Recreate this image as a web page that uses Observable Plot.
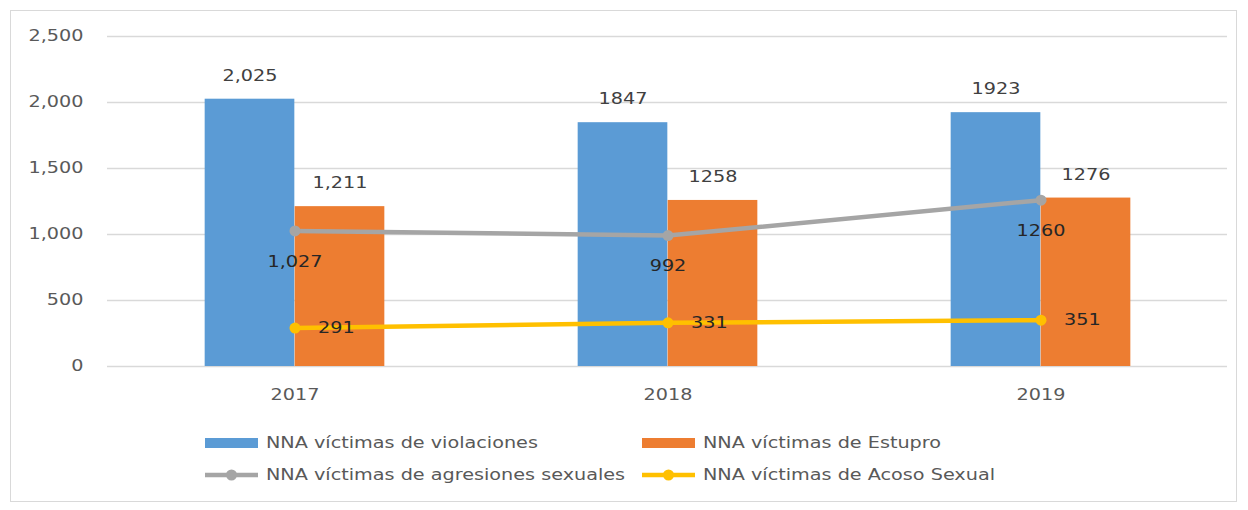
<!DOCTYPE html>
<html>
<head>
<meta charset="utf-8">
<script src="https://cdn.jsdelivr.net/npm/d3@7"></script>
<script src="https://cdn.jsdelivr.net/npm/@observablehq/plot@0.6"></script>
<style>
  body { margin: 0; background: #ffffff; font-family: "DejaVu Sans", sans-serif; }
  #wrap { position: relative; width: 1248px; height: 510px; overflow: hidden; background: #fff; }
  #frame { position: absolute; left: 10px; top: 10px; width: 1227px; height: 492px; border: 1.5px solid #d9d9d9; box-sizing: border-box; }
  #chart { position: absolute; left: 0; top: 0; }
  .item { position: absolute; display: flex; align-items: center; height: 20px; }
  .item svg { display: block; }
  .lab { display: inline-block; margin-left: 8px; transform: scaleX(1.28); transform-origin: 0 50%; font-size: 15px; color: #595959; white-space: nowrap; font-family: "DejaVu Sans", sans-serif; }
</style>
</head>
<body>
<div id="wrap">
  <div id="frame"></div>
  <div id="chart"></div>
  <div id="legend"></div>
</div>
<script>
// ---- data ----
const years = ["2017", "2018", "2019"];
const violaciones = [2025, 1847, 1923];
const estupro = [1211, 1258, 1276];
const agresiones = [1027, 992, 1260];
const acoso = [291, 331, 351];
const violacionesLabels = ["2,025", "1847", "1923"];
const estuproLabels = ["1,211", "1258", "1276"];
const agresionesLabels = ["1,027", "992", "1260"];
const acosoLabels = ["291", "331", "351"];
const yTicks = [0, 500, 1000, 1500, 2000, 2500];
const seriesNames = [
  "NNA víctimas de violaciones",
  "NNA víctimas de Estupro",
  "NNA víctimas de agresiones sexuales",
  "NNA víctimas de Acoso Sexual"
];
const seriesColors = ["#5b9bd5", "#ed7d31", "#a5a5a5", "#ffc000"];

// ---- tables built from the arrays ----
const mk = (vals, labs) => years.map((y, i) => ({year: y, value: vals[i], label: labs[i]}));
const dViol = mk(violaciones, violacionesLabels);
const dEst = mk(estupro, estuproLabels);
const dAgr = mk(agresiones, agresionesLabels);
const dAco = mk(acoso, acosoLabels);

// ---- layout ----
const W = 1248, H = 420, mL = 107, mR = 21, mT = 36, mB = 54;
const bw = (W - mL - mR) / years.length;
const barW = 90;
const FONT = "DejaVu Sans, sans-serif";
const STRETCH = 1.28;

const chart = Plot.plot({
  width: W,
  height: H,
  marginLeft: mL,
  marginRight: mR,
  marginTop: mT,
  marginBottom: mB,
  style: {fontFamily: FONT, fontSize: "15px", color: "#595959", background: "transparent"},
  x: {domain: years, type: "band", paddingInner: 0, paddingOuter: 0, label: null, tickSize: 0, tickPadding: 23},
  y: {domain: [0, 2500], ticks: yTicks, tickFormat: d3.format(","), label: null, tickSize: 0, tickPadding: 24},
  marks: [
    Plot.ruleY(yTicks, {stroke: "#d9d9d9", strokeWidth: 1.3}),
    Plot.barY(dViol, {x: "year", y: "value", fill: seriesColors[0], insetLeft: bw / 2 - barW, insetRight: bw / 2}),
    Plot.barY(dEst, {x: "year", y: "value", fill: seriesColors[1], insetLeft: bw / 2, insetRight: bw / 2 - barW}),
    Plot.line(dAgr, {x: "year", y: "value", stroke: seriesColors[2], strokeWidth: 4.5}),
    Plot.dot(dAgr, {x: "year", y: "value", r: 5.5, fill: seriesColors[2], stroke: "none"}),
    Plot.line(dAco, {x: "year", y: "value", stroke: seriesColors[3], strokeWidth: 4.5}),
    Plot.dot(dAco, {x: "year", y: "value", r: 5.5, fill: seriesColors[3], stroke: "none"}),
    Plot.text(dViol, {x: "year", y: "value", text: "label", dx: -barW / 2, dy: -23, fill: "#404040", fontSize: 15}),
    Plot.text(dEst, {x: "year", y: "value", text: "label", dx: barW / 2, dy: -23, fill: "#404040", fontSize: 15}),
    Plot.text(dAgr, {x: "year", y: "value", text: "label", dy: 31, fill: "#262626", fontSize: 15}),
    Plot.text(dAco, {x: "year", y: "value", text: "label", dx: 23, textAnchor: "start", fill: "#262626", fontSize: 15})
  ]
});
document.getElementById("chart").appendChild(chart);

// horizontally widen every text around its anchor (the reference glyphs are wide)
const ns = "http://www.w3.org/2000/svg";
Array.from(chart.querySelectorAll("text")).forEach(el => {
  const r = el.getBoundingClientRect();
  const anchor = getComputedStyle(el).textAnchor;
  const sx = anchor === "end" ? r.right : anchor === "start" ? r.left : (r.left + r.right) / 2;
  const pt = chart.createSVGPoint();
  pt.x = sx; pt.y = r.top;
  const p = pt.matrixTransform(el.parentNode.getScreenCTM().inverse());
  const g = document.createElementNS(ns, "g");
  g.setAttribute("transform", `translate(${p.x},0) scale(${STRETCH},1) translate(${-p.x},0)`);
  el.parentNode.insertBefore(g, el);
  g.appendChild(el);
});

// ---- legend (HTML, below the svg) ----
const legend = document.getElementById("legend");
const legendPos = [[205, 443], [642, 443], [205, 475], [642, 475]];
seriesNames.forEach((name, i) => {
  const item = document.createElement("div");
  item.className = "item";
  item.style.left = legendPos[i][0] + "px";
  item.style.top = (legendPos[i][1] - 10) + "px";
  let sw;
  if (i < 2) {
    sw = `<svg width="53" height="20"><rect x="0" y="5" width="53" height="10" fill="${seriesColors[i]}"/></svg>`;
  } else {
    sw = `<svg width="53" height="20"><line x1="0" x2="53" y1="10" y2="10" stroke="${seriesColors[i]}" stroke-width="4.5"/><circle cx="26.5" cy="10" r="5.5" fill="${seriesColors[i]}"/></svg>`;
  }
  item.innerHTML = sw + `<span class="lab">${name}</span>`;
  legend.appendChild(item);
});
</script>
</body>
</html>
